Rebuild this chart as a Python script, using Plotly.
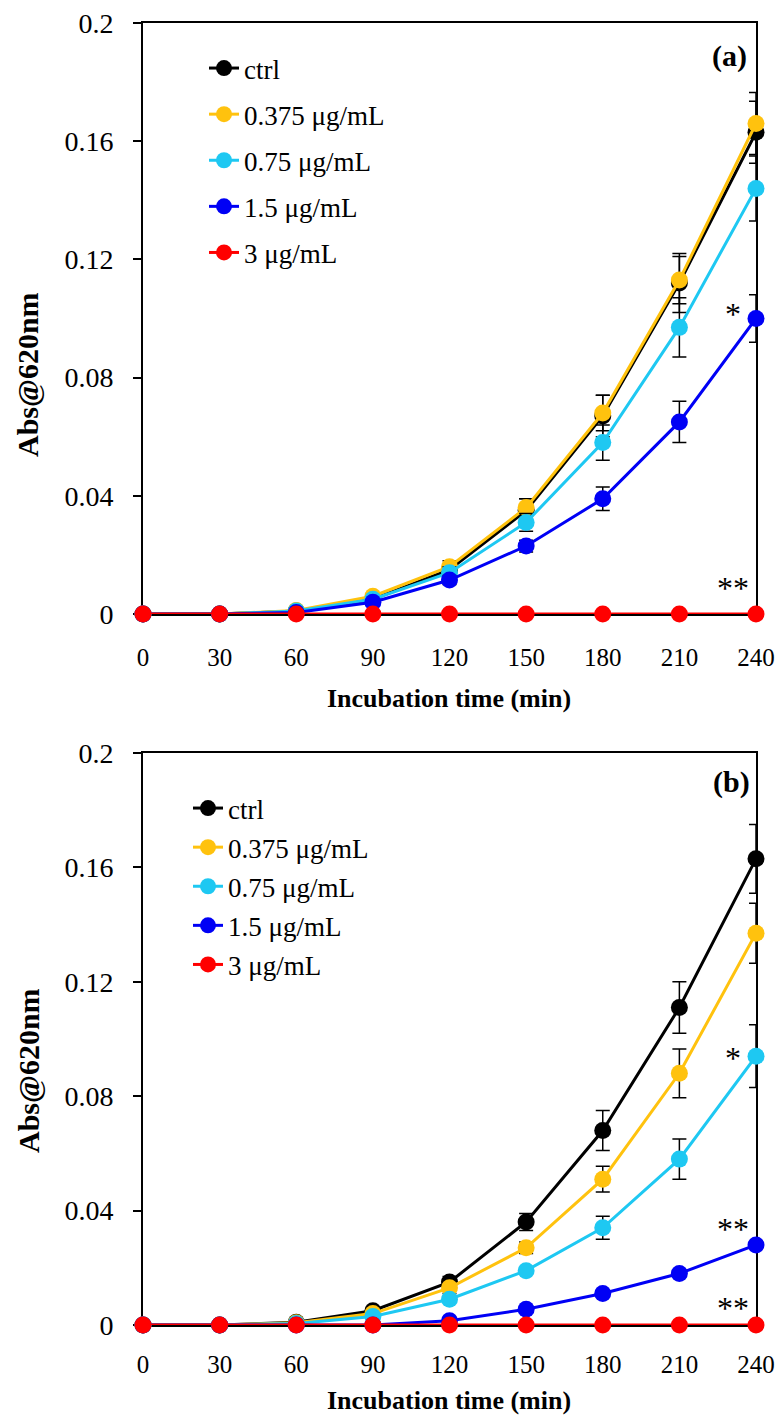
import plotly.graph_objects as go

time_min = [0, 30, 60, 90, 120, 150, 180, 210, 240]
series_names = ["ctrl", "0.375 μg/mL", "0.75 μg/mL", "1.5 μg/mL", "3 μg/mL"]
series_colors = ["#000000", "#FFC20E", "#1EC8F2", "#0000F5", "#FF0000"]

# Panel (a)
a_ctrl = [0, 0, 0.001, 0.005, 0.015, 0.035, 0.067, 0.112, 0.163]
a_ctrl_err = [0, 0, 0.0005, 0.001, 0.002, 0.004, 0.007, 0.010, 0.0105]
a_0375 = [0, 0, 0.0012, 0.006, 0.016, 0.036, 0.068, 0.113, 0.166]
a_0375_err = [0, 0, 0.0005, 0.001, 0.002, 0.003, 0.006, 0.008, 0.0105]
a_075 = [0, 0, 0.001, 0.005, 0.014, 0.031, 0.058, 0.097, 0.144]
a_075_err = [0, 0, 0.0005, 0.001, 0.002, 0.003, 0.006, 0.010, 0.011]
a_15 = [0, 0, 0.0005, 0.004, 0.0115, 0.023, 0.039, 0.065, 0.100]
a_15_err = [0, 0, 0.0003, 0.001, 0.0015, 0.002, 0.004, 0.007, 0.008]
a_3 = [0, 0, 0, 0, 0, 0, 0, 0, 0]
a_3_err = [0, 0, 0, 0, 0, 0, 0, 0, 0]

# Panel (b)
b_ctrl = [0, 0, 0.001, 0.005, 0.015, 0.036, 0.068, 0.111, 0.163]
b_ctrl_err = [0, 0, 0.0005, 0.001, 0.002, 0.003, 0.007, 0.009, 0.012]
b_0375 = [0, 0, 0.0008, 0.004, 0.013, 0.027, 0.051, 0.088, 0.137]
b_0375_err = [0, 0, 0.0005, 0.001, 0.002, 0.002, 0.0045, 0.0085, 0.0105]
b_075 = [0, 0, 0.0005, 0.003, 0.009, 0.019, 0.034, 0.058, 0.094]
b_075_err = [0, 0, 0.0003, 0.001, 0.001, 0.001, 0.004, 0.007, 0.011]
b_15 = [0, 0, 0, 0, 0.0015, 0.0055, 0.011, 0.018, 0.028]
b_15_err = [0, 0, 0, 0, 0.0005, 0.0005, 0.001, 0.001, 0.001]
b_3 = [0, 0, 0, 0, 0, 0, 0, 0, 0]
b_3_err = [0, 0, 0, 0, 0, 0, 0, 0, 0]

y_tickvals = [0, 0.04, 0.08, 0.12, 0.16, 0.2]
y_ticktext = ["0", "0.04", "0.08", "0.12", "0.16", "0.2"]
x_tickvals = time_min

panel_a = [(a_ctrl, a_ctrl_err), (a_0375, a_0375_err), (a_075, a_075_err), (a_15, a_15_err), (a_3, a_3_err)]
panel_b = [(b_ctrl, b_ctrl_err), (b_0375, b_0375_err), (b_075, b_075_err), (b_15, b_15_err), (b_3, b_3_err)]

FONT = "Liberation Serif, Times New Roman, Tinos, DejaVu Serif, serif"
OFF = 8  # page body margin
W, H = 783 - OFF, 1423 - OFF

fig = go.Figure()

for panel, (xa, ya, leg) in zip([panel_a, panel_b], [("x", "y", "legend"), ("x2", "y2", "legend2")]):
    for i, ((vals, errs), name, col) in enumerate(zip(panel, series_names, series_colors)):
        fig.add_trace(go.Scatter(
            x=time_min, y=vals, name=name, mode="lines+markers",
            line=dict(color=col, width=3),
            marker=dict(color=col, size=17),
            error_y=dict(type="data", array=errs, visible=True, color="#000000", thickness=1.5, width=7),
            xaxis=xa, yaxis=ya, legend=leg, legendgroup=leg + str(i),
            cliponaxis=False,
        ))

def px_x(p):
    return (p - OFF) / W

def px_y(p):
    return 1 - (p - OFF) / H

axis_common_x = dict(
    range=[0, 240], tickvals=x_tickvals, ticks="outside", ticklen=6, tickwidth=2, tickcolor="#000",
    showline=True, linecolor="#000", linewidth=2, mirror=True, showgrid=False, zeroline=False,
    tickfont=dict(family=FONT, size=25, color="#000"), layer="below traces", automargin=False,
    ticklabeloverflow="allow",
)
axis_common_y = dict(
    range=[0, 0.2], tickvals=y_tickvals, ticktext=y_ticktext, ticks="outside", ticklen=8, tickwidth=2,
    tickcolor="#000", showline=True, linecolor="#000", linewidth=2, mirror=True, showgrid=False,
    zeroline=False, tickfont=dict(family=FONT, size=28, color="#000"), layer="below traces",
    ticklabelstandoff=14, automargin=False, ticklabeloverflow="allow",
)

fig.update_layout(
    template="none",
    width=W, height=H, margin=dict(l=0, r=0, t=0, b=0, autoexpand=False),
    paper_bgcolor="white", plot_bgcolor="white",
    xaxis=dict(domain=[px_x(143), px_x(756)], anchor="y", ticklabelstandoff=14, **axis_common_x),
    yaxis=dict(domain=[px_y(614), px_y(23)], anchor="x", **axis_common_y),
    xaxis2=dict(domain=[px_x(143), px_x(756)], anchor="y2", ticklabelstandoff=10, **axis_common_x),
    yaxis2=dict(domain=[px_y(1325), px_y(753)], anchor="x2", **axis_common_y),
    legend=dict(x=px_x(204), y=px_y(44), xanchor="left", yanchor="top", bgcolor="rgba(0,0,0,0)",
                font=dict(family=FONT, size=27, color="#000"), tracegroupgap=8, borderwidth=0),
    legend2=dict(x=px_x(188), y=px_y(784), xanchor="left", yanchor="top", bgcolor="rgba(0,0,0,0)",
                 font=dict(family=FONT, size=27, color="#000"), tracegroupgap=1, borderwidth=0),
    font=dict(family=FONT, color="#000"),
)

ann = []
# axis titles
for yc in [375, 1071]:
    ann.append(dict(x=px_x(28), y=px_y(yc), xref="paper", yref="paper", text="<b>Abs@620nm</b>",
                    xanchor="center", yanchor="middle",
                    textangle=-90, showarrow=False, font=dict(family=FONT, size=30, color="#000")))
for yc in [698, 1400]:
    ann.append(dict(x=px_x(449), y=px_y(yc), xref="paper", yref="paper", text="<b>Incubation time (min)</b>",
                    xanchor="center", yanchor="middle",
                    showarrow=False, font=dict(family=FONT, size=26, color="#000")))
# panel labels and significance marks
ann.append(dict(x=229.8, y=0.1888, xref="x", yref="y", text="<b>(a)</b>", showarrow=False,
                xanchor="center", yanchor="middle", font=dict(family=FONT, size=30, color="#000")))
ann.append(dict(x=230.6, y=0.1898, xref="x2", yref="y2", text="<b>(b)</b>", showarrow=False,
                xanchor="center", yanchor="middle", font=dict(family=FONT, size=30, color="#000")))
for xr, yr, xv, yv, t in [("x", "y", 231, 0.1037, "*"), ("x", "y", 231, 0.0108, "**"),
                          ("x2", "y2", 231, 0.0954, "*"), ("x2", "y2", 231, 0.0358, "**"),
                          ("x2", "y2", 231, 0.0081, "**")]:
    ann.append(dict(x=xv, y=yv, xref=xr, yref=yr, text=t, showarrow=False, yshift=-6,
                    xanchor="center", yanchor="middle", font=dict(family=FONT, size=32, color="#000")))
fig.update_layout(annotations=ann)

fig.write_html("out.html", config={"displayModeBar": False})
